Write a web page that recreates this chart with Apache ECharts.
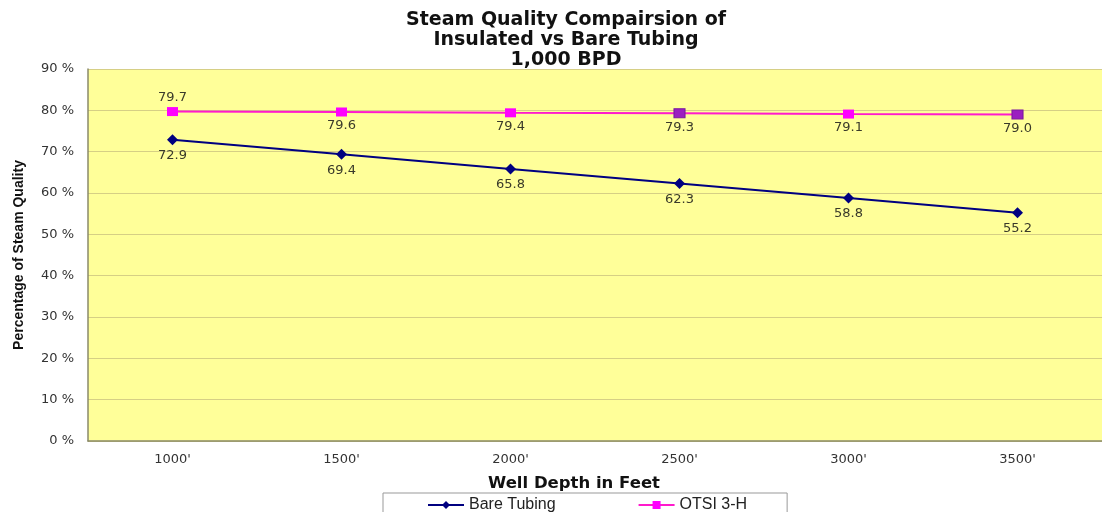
<!DOCTYPE html>
<html><head><meta charset="utf-8">
<script src="https://cdn.jsdelivr.net/npm/echarts@6/dist/echarts.min.js"></script>
<style>html,body{margin:0;padding:0;background:#fff;}#c{width:1102px;height:512px;}</style>
</head><body><div id="c"></div>
<script>
const categories = ["1000'", "1500'", "2000'", "2500'", "3000'", "3500'"];
const bareTubing = [72.9, 69.4, 65.8, 62.3, 58.8, 55.2];
const otsi3H = [79.7, 79.6, 79.4, 79.3, 79.1, 79.0];
const yTicks = [0, 10, 20, 30, 40, 50, 60, 70, 80, 90];

const lblColor = '#3a3a2a';
const DV = "'DejaVu Sans', sans-serif";
const LS = "'Liberation Sans', sans-serif";
const chart = echarts.init(document.getElementById('c'));
const otsiData = otsi3H.map((v, i) => {
  const d = { value: v, label: { position: i === 0 ? 'top' : 'bottom' } };
  if (i === 3 || i === 5) d.itemStyle = { color: '#9b1fc0', borderColor: '#7a1aa0' };
  return d;
});
chart.setOption({
  animation: false,
  backgroundColor: '#ffffff',
  title: {
    text: 'Steam Quality Compairsion of\nInsulated vs Bare Tubing\n1,000 BPD',
    left: 561, top: 5, textAlign: 'center',
    textStyle: { fontFamily: DV, fontWeight: 'bold', fontSize: 19, lineHeight: 20, color: '#111' }
  },
  legend: {
    top: 493, left: 383,
    padding: [4, 40, 8, 44],
    itemGap: 82,
    borderColor: '#999', borderWidth: 1,
    itemWidth: 36, itemHeight: 10,
    textStyle: { fontFamily: LS, fontSize: 16, color: '#222' },
    data: ['Bare Tubing', 'OTSI 3-H']
  },
  grid: { left: 88, top: 69, width: 1022, height: 372, containLabel: false },
  xAxis: {
    type: 'category', data: categories, boundaryGap: true,
    name: 'Well Depth in Feet', nameLocation: 'middle', nameGap: 34,
    nameTextStyle: { fontFamily: DV, fontWeight: 'bold', fontSize: 16.5, color: '#111', padding: [0, 42, 0, 0] },
    axisLine: { lineStyle: { color: '#8a8a6a', width: 1.5 } },
    axisTick: { show: false },
    axisLabel: { fontFamily: DV, fontSize: 13, color: '#333', margin: 12 }
  },
  yAxis: {
    type: 'value', min: 0, max: 90, interval: 10,
    name: 'Percentage of Steam Quality', nameLocation: 'middle', nameGap: 62,
    nameTextStyle: { fontFamily: LS, fontWeight: 'bold', fontSize: 14, color: '#111' },
    axisLine: { show: true, lineStyle: { color: '#8a8a6a', width: 1.5 } },
    axisTick: { show: false },
    axisLabel: { fontFamily: DV, fontSize: 13, color: '#333', margin: 14,
      formatter: v => yTicks.includes(v) ? v + ' %' : '' },
    splitLine: { lineStyle: { color: '#d6cf85', width: 1 } },
    splitArea: { show: true, areaStyle: { color: ['#ffff99', '#ffff99'] } }
  },
  series: [
    {
      name: 'Bare Tubing', type: 'line', data: bareTubing,
      symbol: 'diamond', symbolSize: 11,
      lineStyle: { color: '#000080', width: 2 },
      itemStyle: { color: '#000080' },
      label: { show: true, position: 'bottom', distance: 4, formatter: p => p.value.toFixed(1),
        fontFamily: DV, fontSize: 13, color: lblColor }
    },
    {
      name: 'OTSI 3-H', type: 'line', data: otsiData,
      symbol: 'rect', symbolSize: [11, 9],
      lineStyle: { color: '#ff1acc', width: 2 },
      itemStyle: { color: '#ff00ff' },
      label: { show: true, distance: 3, formatter: p => p.value.toFixed(1),
        fontFamily: DV, fontSize: 13, color: lblColor }
    }
  ]
});
</script></body></html>
